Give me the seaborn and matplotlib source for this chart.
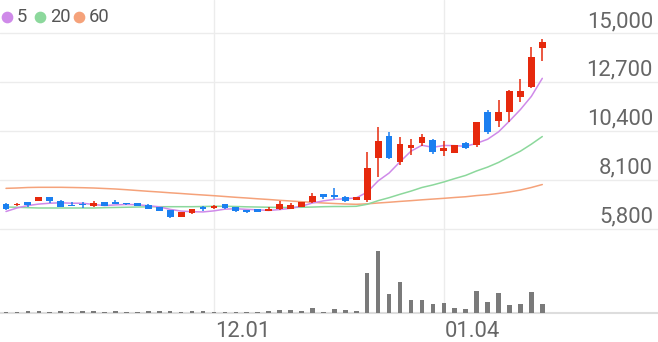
import numpy as np
import pandas as pd
import matplotlib
matplotlib.use("Agg")
import matplotlib.pyplot as plt
import matplotlib.transforms as mtransforms
import seaborn as sns

# ---------------- data ----------------
opens = [6980, 6900, 7060, 7120, 7290, 7120, 6930, 6960, 6880, 7060,
         7060, 7020, 7020, 6930, 6810, 6680, 6370, 6520, 6840, 6780,
         6950, 6810, 6680, 6710, 6620, 6740, 6740, 6840, 7060, 7430,
         7370, 7310, 7160, 7160, 9110, 10160, 8950, 9580, 9820, 9960,
         9470, 9380, 9820, 9740, 11280, 10870, 11280, 11990, 12490, 14290]
highs = [6990, 6990, 7070, 7300, 7300, 7130, 7040, 7040, 7090, 7070,
         7140, 7030, 7030, 6940, 6820, 6690, 6580, 6720, 6850, 6900,
         6960, 6820, 6690, 6720, 6840, 7090, 7020, 7060, 7500, 7440,
         7720, 7320, 7290, 9400, 10600, 10370, 10130, 10020, 10240, 10020,
         9930, 9750, 9900, 10820, 11370, 11860, 12310, 12830, 14370, 14730]
lows = [6700, 6870, 6840, 7090, 7010, 6820, 6880, 6780, 6810, 6850,
        6970, 6900, 6860, 6730, 6610, 6300, 6360, 6490, 6620, 6710,
        6750, 6570, 6520, 6580, 6610, 6680, 6730, 6810, 7000, 7180,
        7180, 7080, 7130, 7070, 8250, 9100, 8800, 9270, 9710, 9330,
        9240, 9370, 9570, 9660, 10270, 10600, 10810, 11780, 12410, 13700]
closes = [6740, 6960, 6900, 7290, 7090, 6840, 6880, 6900, 7000, 6860,
          6980, 6960, 6870, 6740, 6620, 6350, 6570, 6710, 6710, 6870,
          6760, 6630, 6590, 6590, 6740, 6960, 6930, 7060, 7340, 7280,
          7280, 7090, 7280, 8670, 9930, 9110, 9770, 9740, 10100, 9400,
          9580, 9740, 9580, 10810, 10340, 11310, 12300, 12300, 13900, 14580]
volumes = [50, 50, 65, 85, 50, 65, 50, 65, 85, 50,
           65, 50, 50, 65, 85, 100, 50, 65, 65, 35,
           50, 50, 50, 50, 65, 115, 135, 65, 215, 50,
           165, 125, 100, 1970, 3085, 935, 1520, 635, 635, 420,
           470, 250, 200, 1085, 520, 1000, 400, 450, 1050, 435]
ma5 = [6610, 6775, 6890, 6960, 7000, 7020, 7000, 7000, 6940, 6890,
       6920, 6940, 6930, 6880, 6830, 6710, 6630, 6600, 6590, 6640,
       6720, 6740, 6710, 6690, 6660, 6700, 6760, 6860, 7010, 7110,
       7180, 7210, 7250, 7520, 8050, 8420, 8950, 9450, 9730, 9630,
       9720, 9710, 9680, 9820, 10010, 10360, 10870, 11410, 12030, 12880]
ma20 = [6820, 6810, 6790, 6775, 6775, 6775, 6775, 6775, 6775, 6790,
        6800, 6810, 6820, 6830, 6836, 6836, 6836, 6836, 6845, 6855,
        6855, 6845, 6830, 6820, 6810, 6800, 6800, 6810, 6820, 6836,
        6845, 6845, 6855, 6950, 7120, 7260, 7420, 7570, 7740, 7860,
        8000, 8160, 8310, 8520, 8700, 8920, 9190, 9450, 9780, 10140]
ma60 = [7700, 7716, 7740, 7749, 7749, 7749, 7740, 7730, 7716, 7693,
        7669, 7636, 7598, 7561, 7528, 7490, 7457, 7420, 7387, 7354,
        7316, 7278, 7245, 7208, 7175, 7137, 7104, 7071, 7043, 7010,
        6986, 6963, 6949, 6970, 7010, 7045, 7085, 7120, 7160, 7195,
        7230, 7270, 7305, 7360, 7400, 7460, 7530, 7620, 7740, 7880]
price_ticks = [5800, 8100, 10400, 12700, 15000]
date_labels = ["12.01", "01.04"]
date_positions = [19, 40]
ma_names = ["5", "20", "60"]

df = pd.DataFrame({"idx": np.arange(len(closes)), "open": opens, "high": highs,
                   "low": lows, "close": closes, "vol": volumes,
                   "ma5": ma5, "ma20": ma20, "ma60": ma60})

# ---------------- style ----------------
sns.set_theme(style="white")
plt.rcParams["font.family"] = ["Roboto", "DejaVu Sans"]

W, H = 658, 342
RED = "#e6290d"
BLUE = "#1b7ff0"
MA_COLORS = ["#cf8ae9", "#8cd89c", "#f5a27a"]
GRID = "#ececec"
TXT = "#666666"

fig = plt.figure(figsize=(W / 100, H / 100), dpi=100)
fig.patch.set_facecolor("white")

# pixel layout
grid_top_px, grid_bot_px = 33.3, 228.7
ppx = (price_ticks[-1] - price_ticks[0]) / (grid_bot_px - grid_top_px)
price_bottom_px = 240
vol_bottom_px = 312.7
x0_px, step_px = 6.0, 10.945

ax = fig.add_axes([0, 1 - price_bottom_px / H, 1, price_bottom_px / H])
axv = fig.add_axes([0, 1 - vol_bottom_px / H, 1, (vol_bottom_px - price_bottom_px) / H])

xlim = (-x0_px / step_px, (W - x0_px) / step_px)
for a in (ax, axv):
    a.set_xlim(*xlim)
    a.set_facecolor("none")
    for s in a.spines.values():
        s.set_visible(False)
    a.set_xticks([])
    a.set_yticks([])
    for p in date_positions:
        a.axvline(p, color=GRID, lw=1.0, zorder=0)

ax.set_ylim(price_ticks[0] - (price_bottom_px - grid_bot_px) * ppx,
            price_ticks[0] + grid_bot_px * ppx)
for t in price_ticks:
    ax.axhline(t, color=GRID, lw=1.0, zorder=0)

# MA lines
for col, c in zip(["ma60", "ma20", "ma5"], [MA_COLORS[2], MA_COLORS[1], MA_COLORS[0]]):
    sns.lineplot(data=df, x="idx", y=col, ax=ax, color=c, lw=1.1, zorder=2)
ax.set_xlabel("")
ax.set_ylabel("")

# candles
up = df["close"] >= df["open"]
colors = np.where(up, RED, BLUE)
body_bottom = np.minimum(df["open"], df["close"])
body_h = np.maximum(np.abs(df["close"] - df["open"]), 1.0 * ppx)
ax.vlines(df["idx"], df["low"], df["high"], colors=colors, lw=1.1, zorder=3)
ax.bar(df["idx"], body_h, bottom=body_bottom, width=0.62, color=colors, zorder=4, linewidth=0)

# volume
vol_scale = 50.0
axv.set_ylim(0, (vol_bottom_px - price_bottom_px) * vol_scale)
axv.bar(df["idx"], df["vol"], width=0.42, color="#7a7a7a", linewidth=0, zorder=3)
axv.axhline(0, color="#dddddd", lw=1.5, zorder=2, clip_on=False)

# right price labels
trans = mtransforms.blended_transform_factory(ax.transAxes, ax.transData)
trans = mtransforms.offset_copy(trans, fig=fig, y=6.3, units="dots")
for t in price_ticks:
    ax.text(653 / W, t, f"{t:,}", transform=trans, ha="right", va="baseline",
            fontsize=15.8, color=TXT)

# date labels
dtrans = mtransforms.blended_transform_factory(ax.transData, fig.transFigure)
dtrans = mtransforms.offset_copy(dtrans, fig=fig, x=1.0, units="dots")
for p, lab in zip(date_positions, date_labels):
    fig.text(p, 5.3 / H, lab, transform=dtrans, ha="left", va="baseline",
             fontsize=15.8, color=TXT)

# legend
dot_x = [6.7, 39.7, 78.7]
txt_x = [17, 50, 89]
for dx, tx, c, name in zip(dot_x, txt_x, MA_COLORS, ma_names):
    fig.lines.append(plt.Line2D([dx / W], [1 - 16.5 / H], marker="o", markersize=7.4,
                                color=c, linestyle="none", transform=fig.transFigure))
    fig.text(tx / W, 1 - 22.5 / H, name, ha="left", va="baseline",
             fontsize=13.2, color="#555555")

fig.savefig("out.png", dpi=100, facecolor="white")
